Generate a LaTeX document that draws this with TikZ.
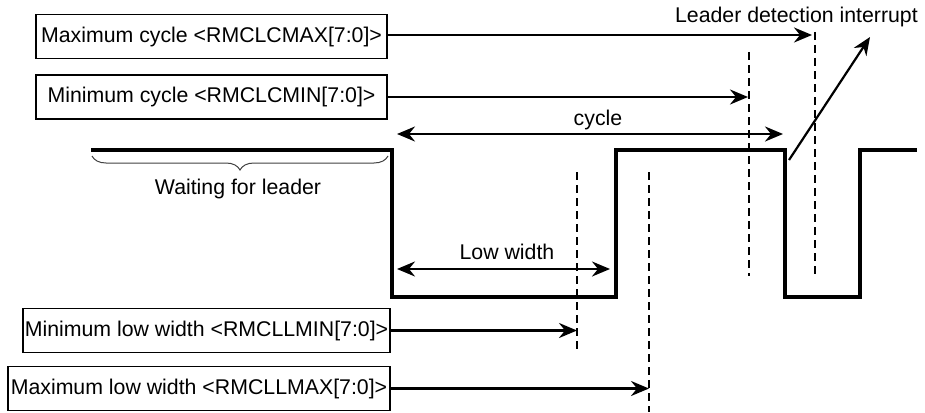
\documentclass[tikz,border=0pt]{standalone}
\usepackage{fontspec}
\setmainfont{Liberation Sans}
\usetikzlibrary{arrows.meta,decorations.pathreplacing}
\begin{document}
\begin{tikzpicture}[x=1pt,y=-1pt,
  every node/.style={font=\fontsize{21.3}{25}\selectfont},
  regbox/.style={draw,line width=1.5pt,inner sep=0pt,minimum height=44pt},
  tip/.tip={Stealth[length=18pt,width=15pt,inset=6pt]},
  arr/.style={line width=2.5pt,-tip},
  dblarr/.style={line width=2.5pt,tip-tip},
  dsh/.style={line width=2.4pt,dash pattern=on 8pt off 5pt},
  sig/.style={line width=3.6pt,line join=miter},
  lbl/.style={inner sep=0pt}]
\useasboundingbox (0,0) rectangle (925,412);
% boxes
\node[regbox,minimum width=351pt] (bmaxc) at (211.5,36.5) {Maximum cycle <RMCLCMAX[7:0]>};
\node[regbox,minimum width=351pt] (bminc) at (211.5,97) {Minimum cycle <RMCLCMIN[7:0]>};
\node[regbox,minimum width=367pt] (bminl) at (206.5,330.5) {Minimum low width <RMCLLMIN[7:0]>};
\node[regbox,minimum width=382pt] (bmaxl) at (199,388.5) {Maximum low width <RMCLLMAX[7:0]>};
% dashed marker lines
\coordinate (d1t) at (577,172); \coordinate (d1b) at (577,353);
\coordinate (d2t) at (649,172); \coordinate (d2b) at (649,412);
\coordinate (d3t) at (749,52);  \coordinate (d3b) at (749,276);
\coordinate (d4t) at (815,32);  \coordinate (d4b) at (815,276);
\draw[dsh] (d1t) -- (d1b);
\draw[dsh] (d2t) -- (d2b);
\draw[dsh] (d3t) -- (d3b);
\draw[dsh] (d4t) -- (d4b);
% signal
\draw[sig] (91,150) -- (392,150) -- (392,297) -- (616,297) -- (616,150) -- (785,150) -- (785,297) -- (860,297) -- (860,150) -- (917,150);
% brace
\draw[line width=1pt,black!75,decorate,decoration={brace,mirror,amplitude=14pt}] (92,156) -- (388,156);
\node[lbl] (wait) at (238,189) {Waiting for leader};
% arrows from boxes
\draw[arr] (bmaxc.east |- 0,35) -- (812,35);
\draw[arr] (bminc.east |- 0,97) -- (748,97);
\draw[arr] (bminl.east) -- (bminl.east -| d1t);
\draw[arr] (bmaxl.east) -- (bmaxl.east -| d2t);
% cycle and low width
\coordinate (cyl) at (397,134); \coordinate (cyr) at (783,134);
\draw[dblarr] (cyl) -- (cyr);
\node[lbl] (cyc) at (598,120) {cycle};
\coordinate (lwl) at (397,269); \coordinate (lwr) at (610,269);
\draw[dblarr] (lwl) -- (lwr);
\node[lbl] (lw) at (507,252) {Low width};
% interrupt
\node[lbl,anchor=east] (ldi) at (918,17) {Leader detection interrupt};
\coordinate (ist) at (789,160); \coordinate (ien) at (870,37);
\draw[arr,line width=2.2pt] (ist) -- (ien);
\end{tikzpicture}
\end{document}
